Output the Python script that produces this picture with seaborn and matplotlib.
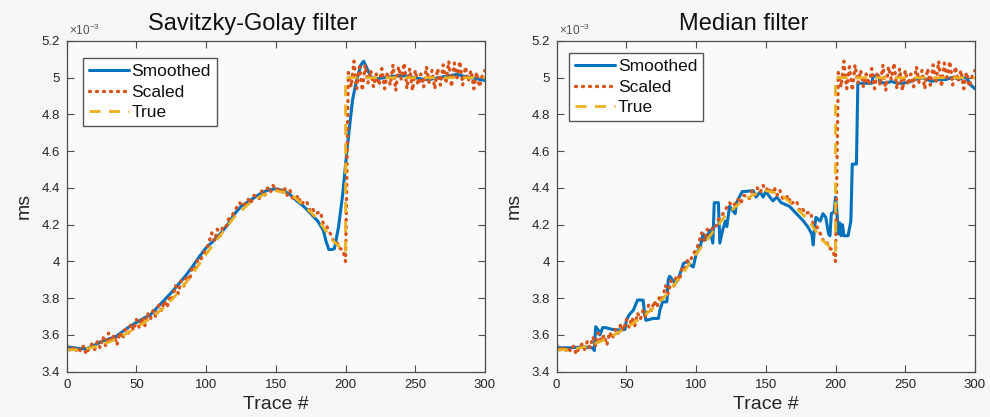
import numpy as np
import pandas as pd
import matplotlib
matplotlib.use("Agg")
import matplotlib.pyplot as plt
import seaborn as sns

# ---------------- data (values in units of 1e-3 ms) ----------------
true_x = [0, 10, 20, 30, 40, 50, 60, 70, 80, 90, 100, 110, 120, 130, 140, 150,
          160, 170, 180, 190, 200, 200, 250, 300]
true_y = [3.52, 3.52, 3.535, 3.56, 3.595, 3.64, 3.69, 3.75, 3.83, 3.93, 4.04,
          4.14, 4.24, 4.31, 4.36, 4.385, 4.37, 4.305, 4.23, 4.12, 4.05,
          5.0, 5.0, 5.0]

scaled_x = list(range(0, 301, 2))
scaled_y = [3.545, 3.515, 3.54, 3.505, 3.535, 3.51, 3.54, 3.495, 3.53, 3.55,
            3.52, 3.565, 3.53, 3.59, 3.54, 3.61, 3.565, 3.60, 3.545, 3.615,
            3.58, 3.63, 3.605, 3.66, 3.625, 3.685, 3.64, 3.695, 3.65, 3.72,
            3.685, 3.735, 3.695, 3.765, 3.73, 3.785, 3.75, 3.815, 3.80, 3.87,
            3.825, 3.895, 3.865, 3.925, 3.895, 3.97, 3.96, 4.01, 4.005, 4.045,
            4.06, 4.105, 4.155, 4.11, 4.175, 4.14, 4.19, 4.185, 4.23, 4.24,
            4.27, 4.295, 4.32, 4.30, 4.315, 4.34, 4.315, 4.36, 4.355, 4.34,
            4.385, 4.36, 4.40, 4.375, 4.415, 4.385, 4.405, 4.365, 4.405, 4.36,
            4.39, 4.345, 4.335, 4.36, 4.31, 4.325, 4.33, 4.28, 4.295, 4.26,
            4.265, 4.27, 4.205, 4.20, 4.165, 4.14, 4.095, 4.10, 4.07, 4.065,
            4.00,
            5.03, 4.95, 5.09, 4.94, 5.06, 4.93, 5.07, 4.97, 5.04, 4.95,
            5.02, 4.96, 5.05, 4.94, 5.03, 4.96, 5.07, 4.93, 5.06, 4.99,
            5.08, 4.94, 5.05, 4.93, 5.04, 4.96, 5.02, 4.95, 5.06, 4.97,
            5.04, 4.94, 5.05, 4.96, 5.07, 4.97, 5.09, 4.95, 5.08, 5.00,
            5.09, 4.96, 5.06, 4.98, 5.04, 4.94, 5.03, 4.95, 5.01, 5.04]

sg_x = [0, 5, 10, 15, 20, 25, 30, 35, 40, 45, 50, 55, 60, 65, 70, 75, 80, 85,
        90, 95, 100, 105, 110, 115, 120, 125, 130, 135, 140, 145, 150, 155,
        160, 165, 170, 175, 180, 184, 186, 188, 190, 192, 195, 198, 201, 205,
        208, 211, 213, 216, 218, 222, 226, 230, 235, 240, 245, 250, 255, 260,
        265, 270, 275, 280, 285, 290, 295, 300]
sg_y = [3.535, 3.53, 3.525, 3.527, 3.545, 3.565, 3.578, 3.59, 3.618, 3.645,
        3.668, 3.69, 3.71, 3.75, 3.79, 3.83, 3.875, 3.92, 3.97, 4.025, 4.075,
        4.11, 4.15, 4.195, 4.255, 4.30, 4.325, 4.35, 4.375, 4.39, 4.395,
        4.387, 4.365, 4.33, 4.30, 4.26, 4.22, 4.17, 4.11, 4.065, 4.065, 4.07,
        4.19, 4.37, 4.605, 4.88, 4.99, 5.07, 5.09, 5.04, 5.005, 4.995, 4.998,
        5.003, 5.008, 5.012, 5.008, 5.0, 4.992, 4.99, 4.998, 5.005, 5.012,
        5.018, 5.008, 5.0, 4.993, 4.985]

med_x = [0, 10, 20, 26, 27, 28, 30, 31, 33, 35, 40, 45, 49, 50, 52, 55, 58,
         62, 63, 64, 67, 69, 73, 74, 76, 79, 80, 81, 83, 85, 87, 91, 94, 96,
         98, 100, 103, 105, 107, 110, 112, 113, 116, 117, 119, 121, 122, 124,
         128, 129, 133, 141, 143, 146, 148, 150, 153, 155, 158, 161, 167, 172,
         177, 180, 183, 184, 185, 186, 189, 191, 193, 195, 196, 197, 199, 200,
         201, 202, 203, 204, 205, 206, 209, 211, 212, 214, 215, 216, 226, 227,
         231, 232, 236, 240, 244, 248, 252, 257, 262, 266, 269, 274, 279, 283,
         286, 288, 292, 294, 297, 300]
med_y = [3.53, 3.53, 3.535, 3.53, 3.515, 3.645, 3.625, 3.60, 3.64, 3.64, 3.63,
         3.627, 3.63, 3.68, 3.71, 3.735, 3.79, 3.79, 3.72, 3.68, 3.685, 3.69,
         3.69, 3.735, 3.78, 3.78, 3.90, 3.92, 3.90, 3.88, 3.90, 3.99, 4.0,
         3.98, 3.97, 4.04, 4.08, 4.15, 4.12, 4.17, 4.10, 4.32, 4.32, 4.10,
         4.17, 4.22, 4.19, 4.30, 4.26, 4.32, 4.38, 4.385, 4.35, 4.38, 4.35,
         4.38, 4.35, 4.33, 4.35, 4.32, 4.30, 4.26, 4.22, 4.19, 4.15, 4.09,
         4.19, 4.24, 4.22, 4.26, 4.24, 4.15, 4.14, 4.26, 4.27, 4.35, 4.27,
         4.15, 4.21, 4.14, 4.20, 4.14, 4.14, 4.22, 4.53, 4.53, 4.53, 4.97,
         4.97, 5.01, 5.01, 4.975, 4.97, 4.98, 4.97, 4.97, 4.975, 4.99, 5.0,
         4.99, 4.98, 4.99, 4.99, 5.0, 5.0, 4.99, 5.0, 5.0, 4.96, 4.94]

titles = ["Savitzky-Golay filter", "Median filter"]
x_ticks = [0, 50, 100, 150, 200, 250, 300]
y_ticks = [3.4, 3.6, 3.8, 4.0, 4.2, 4.4, 4.6, 4.8, 5.0, 5.2]

# ---------------- style ----------------
sns.set_style("ticks")
plt.rcParams["font.family"] = ["Liberation Sans", "DejaVu Sans"]
plt.rcParams["mathtext.fontset"] = "custom"
plt.rcParams["mathtext.rm"] = "Liberation Sans"

BLUE = "#0072BD"
ORANGE = "#D95319"
YELLOW = "#EDB120"
AX_COL = "#4d4d4d"
TXT = "#262626"

fig = plt.figure(figsize=(9.9, 4.17), dpi=100, facecolor="#f6f6f6")
axes = [fig.add_axes([0.0674, 0.1086, 0.4225, 0.7931]),
        fig.add_axes([0.5623, 0.1086, 0.4225, 0.7931])]

df_true = pd.DataFrame({"x": true_x, "y": true_y})
df_scaled = pd.DataFrame({"x": scaled_x, "y": scaled_y})
smooth_sets = [pd.DataFrame({"x": sg_x, "y": sg_y}),
               pd.DataFrame({"x": med_x, "y": med_y})]
title_pos = [0.444, 0.448]
leg_anchor = [(16 / 418.3, 1 - 17 / 330.7), (12.6 / 418.3, 1 - 12 / 330.7)]

for i, ax in enumerate(axes):
    ax.set_facecolor("#fafafa")
    sns.lineplot(data=smooth_sets[i], x="x", y="y", ax=ax, color=BLUE,
                 linewidth=2.2, sort=False, estimator=None, label="Smoothed")
    sns.lineplot(data=df_scaled, x="x", y="y", ax=ax, color=ORANGE,
                 linewidth=2.4, linestyle=(0, (0.3, 1.8)),
                 dash_capstyle="round", sort=False,
                 estimator=None, label="Scaled")
    sns.lineplot(data=df_true, x="x", y="y", ax=ax, color=YELLOW,
                 linewidth=2.0, linestyle=(0, (4, 3)), sort=False,
                 estimator=None, label="True")
    ax.set_xlim(0, 300)
    ax.set_ylim(3.4, 5.2)
    ax.set_xticks(x_ticks)
    ax.set_yticks(y_ticks)
    ax.set_xticklabels([f"{v:g}" for v in x_ticks])
    ax.set_yticklabels([f"{v:g}" for v in y_ticks])
    ax.tick_params(direction="in", length=5, width=0.8, color=AX_COL,
                   labelsize=9.5, labelcolor=TXT, top=True, right=True,
                   pad=5)
    for s in ax.spines.values():
        s.set_visible(True)
        s.set_color(AX_COL)
        s.set_linewidth(0.9)
    ax.set_xlabel("Trace #", fontsize=14, color=TXT, labelpad=4)
    ax.set_ylabel("ms", fontsize=14, color=TXT, labelpad=6)
    ax.set_title(titles[i], fontsize=17, color="#111111", x=title_pos[i],
                 pad=8)
    ax.text(0.005, 1.008, r"$\times10^{-3}$", transform=ax.transAxes,
            fontsize=8.5, color="#555555", ha="left", va="bottom")
    leg = ax.legend(loc="upper left", bbox_to_anchor=leg_anchor[i],
                    borderaxespad=0, fontsize=12.5, handlelength=2.3,
                    labelspacing=0.3, handletextpad=0.15, borderpad=0.35,
                    fancybox=False, frameon=True)
    leg.get_frame().set_edgecolor("#555555")
    leg.get_frame().set_linewidth(1.0)
    leg.get_frame().set_facecolor("#ffffff")
    leg.get_frame().set_alpha(1.0)
    for t in leg.get_texts():
        t.set_color("#111111")

fig.savefig("out.png", dpi=100, facecolor=fig.get_facecolor())
